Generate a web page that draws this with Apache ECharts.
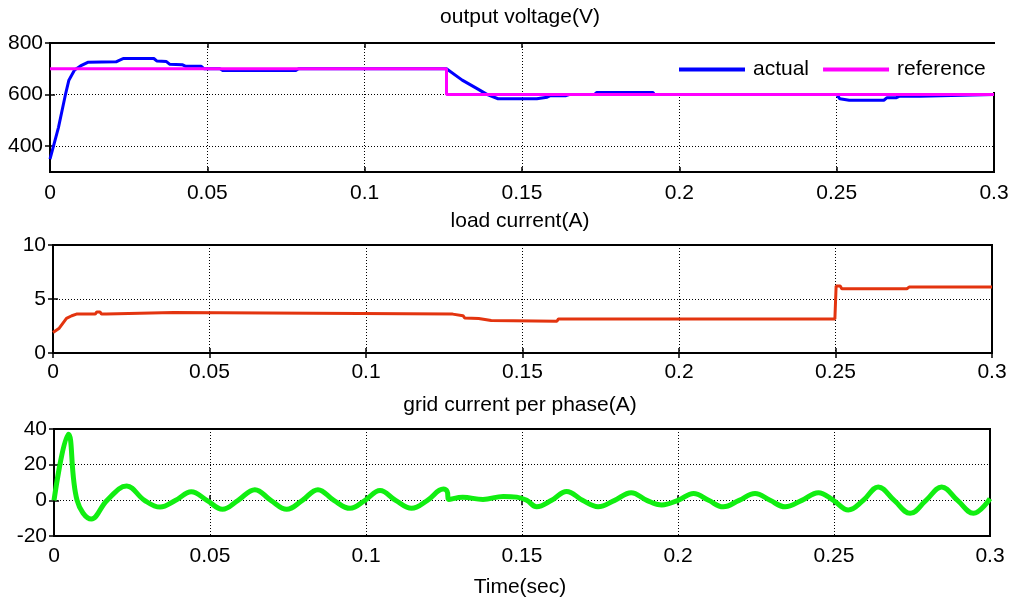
<!DOCTYPE html>
<html>
<head>
<meta charset="utf-8">
<script src="https://cdn.jsdelivr.net/npm/echarts@6/dist/echarts.min.js"></script>
<style>
html,body{margin:0;padding:0;background:#fff;}
#c{width:1013px;height:605px;}
</style>
</head>
<body>
<div id="c"></div>
<script>
// ---- data ----
const xTicks = [0, 0.05, 0.1, 0.15, 0.2, 0.25, 0.3];
const xTickLabels = ['0', '0.05', '0.1', '0.15', '0.2', '0.25', '0.3'];
const vTicks = [400, 600, 800];
const vTickLabels = ['400', '600', '800'];
const iLoadTicks = [0, 5, 10];
const iGridTicks = [-20, 0, 20, 40];
const titles = ['output voltage(V)', 'load current(A)', 'grid current per phase(A)', 'Time(sec)'];
const legendNames = ['actual', 'reference'];

// output voltage, actual [t, V]
const voltageActual = [[0,350],[0.0027,473],[0.005,605],[0.006,656],[0.0078,695],[0.0097,711],[0.012,725],[0.021,727],[0.022,733],[0.0234,740],[0.033,740],[0.034,730],[0.037,728],[0.038,718],[0.042,716],[0.043,710],[0.048,710],[0.049,700],[0.054,700],[0.055,693],[0.078,693],[0.079,700],[0.126,700],[0.131,656],[0.1356,624],[0.139,600],[0.1424,584],[0.1547,584],[0.155,590],[0.158,590],[0.159,596],[0.164,596],[0.165,600],[0.173,600],[0.1737,608],[0.1917,608],[0.192,600],[0.25,600],[0.251,584],[0.254,578],[0.265,578],[0.266,588],[0.269,588],[0.27,594],[0.2764,594],[0.277,600],[0.3,600]];
// output voltage, reference [t, V]
const voltageRef = [[0,700],[0.126,700],[0.126,600],[0.3,600]];
// load current [t, A]
const loadCurrent = [[0,1.9],[0.002,2.3],[0.0043,3.2],[0.006,3.45],[0.0075,3.6],[0.0135,3.6],[0.014,3.8],[0.015,3.8],[0.0155,3.6],[0.017,3.6],[0.0175,3.75],[0.0385,3.75],[0.039,3.6],[0.1277,3.6],[0.128,3.45],[0.131,3.45],[0.1315,3.25],[0.136,3.2],[0.1365,3.05],[0.14,3.0],[0.1405,2.95],[0.161,2.95],[0.1615,3.15],[0.2498,3.15],[0.2502,6.2],[0.2515,6.2],[0.252,5.95],[0.2728,5.95],[0.2735,6.1],[0.3,6.1]];
// grid current per phase [t, A]
const gridCurrent = [[0,0],[0.0046,37],[0.0074,0],[0.012,-10.5],[0.017,0],[0.0233,8],[0.029,0],[0.034,-3.8],[0.039,0],[0.044,4.8],[0.049,0],[0.054,-5],[0.059,0],[0.0644,6],[0.0695,0],[0.0746,-5],[0.0796,0],[0.0846,6],[0.0897,0],[0.0949,-4.5],[0.0997,0],[0.1045,5.5],[0.1095,0],[0.1146,-4.5],[0.1197,0],[0.1248,6.3],[0.126,5],[0.1265,0.5],[0.131,1.7],[0.1375,0.5],[0.144,2.2],[0.1483,1.8],[0.1515,0],[0.1547,-3.6],[0.1595,0],[0.1643,5],[0.1694,0],[0.1744,-3.6],[0.1797,0],[0.185,4.3],[0.19,0],[0.1948,-2.6],[0.2,0],[0.205,3.9],[0.2098,0],[0.2145,-3.6],[0.2196,0],[0.2247,3.9],[0.2295,0],[0.2343,-3.6],[0.2397,0],[0.245,4.3],[0.2498,0],[0.2546,-5.4],[0.2594,0],[0.2642,7.5],[0.2693,0],[0.2744,-7.3],[0.2795,0],[0.2845,7.5],[0.2896,0],[0.2947,-7.3],[0.3,1]];

// ---- chart ----
const FONT = 'Liberation Sans, Arial, sans-serif';
const FS = 21;
const grids = [
  {left: 50, right: 19, top: 43, height: 129},
  {left: 53, right: 21, top: 245, height: 108},
  {left: 54, right: 23, top: 429, height: 107}
];
const xLabelMargins = [11, 9, 10];
const yCfg = [
  {min: 300, max: 800, ticks: vTicks, labels: vTickLabels},
  {min: 0, max: 10, ticks: iLoadTicks, labels: iLoadTicks.map(String)},
  {min: -20, max: 40, ticks: iGridTicks, labels: iGridTicks.map(String)}
];

const splitLine = {show: true, lineStyle: {color: '#000', type: [1, 2], width: 1}};
const tickStyle = {color: '#000', width: 1.5};
const xAxes = [], yAxes = [];
grids.forEach((g, k) => {
  xAxes.push({
    type: 'value', gridIndex: k, min: 0, max: 0.3, position: 'bottom',
    axisLine: {show: false},
    axisTick: {show: true, inside: true, length: 5, lineStyle: tickStyle, customValues: xTicks},
    axisLabel: {show: true, customValues: xTicks, margin: xLabelMargins[k], color: '#000', fontSize: FS, fontFamily: FONT,
      formatter: v => { const i = xTicks.findIndex(t => Math.abs(t - v) < 1e-9); return i >= 0 ? xTickLabels[i] : ''; }},
    splitLine: splitLine
  });
  xAxes.push({
    type: 'value', gridIndex: k, min: 0, max: 0.3, position: 'top',
    axisLine: {show: false},
    axisTick: {show: true, inside: true, length: 5, lineStyle: tickStyle, customValues: xTicks},
    axisLabel: {show: false}, splitLine: {show: false}
  });
  const yc = yCfg[k];
  yAxes.push({
    type: 'value', gridIndex: k, min: yc.min, max: yc.max, position: 'left',
    axisLine: {show: false},
    axisTick: {show: true, inside: true, length: 5, lineStyle: tickStyle, customValues: yc.ticks},
    axisLabel: {show: true, customValues: yc.ticks, margin: 7, color: '#000', fontSize: FS, fontFamily: FONT,
      formatter: v => { const i = yc.ticks.indexOf(v); return i >= 0 ? yc.labels[i] : ''; }},
    splitLine: splitLine
  });
  yAxes.push({
    type: 'value', gridIndex: k, min: yc.min, max: yc.max, position: 'right',
    axisLine: {show: false},
    axisTick: {show: true, inside: true, length: 5, lineStyle: tickStyle, customValues: yc.ticks},
    axisLabel: {show: false}, splitLine: {show: false}
  });
});

const titleCenter = 520;
const titleTops = [7, 211, 395, 577];
const option = {
  animation: false,
  backgroundColor: '#fff',
  textStyle: {fontFamily: FONT},
  title: titles.map((t, i) => ({
    text: t, left: titleCenter, top: titleTops[i], textAlign: 'center', padding: 0,
    textStyle: {color: '#000', fontSize: FS, fontWeight: 'normal', fontFamily: FONT}
  })),
  grid: grids.map(g => Object.assign({show: true, borderColor: '#000', borderWidth: 2, backgroundColor: 'transparent'}, g)),
  xAxis: xAxes,
  yAxis: yAxes,
  legend: {
    data: legendNames,
    left: 668, top: 44,
    padding: [15, 10, 12, 11],
    itemGap: 14,
    itemWidth: 66, itemHeight: 4,
    icon: 'rect',
    backgroundColor: '#fff',
    textStyle: {color: '#000', fontSize: FS, fontFamily: FONT, padding: [0, 0, 0, 3]}
  },
  series: [
    {name: legendNames[0], type: 'line', xAxisIndex: 0, yAxisIndex: 0, data: voltageActual, showSymbol: false,
      lineStyle: {color: '#0000ff', width: 3}, itemStyle: {color: '#0000ff'}},
    {name: legendNames[1], type: 'line', xAxisIndex: 0, yAxisIndex: 0, data: voltageRef, showSymbol: false,
      lineStyle: {color: '#ff00ff', width: 3}, itemStyle: {color: '#ff00ff'}},
    {name: 'load current', type: 'line', xAxisIndex: 2, yAxisIndex: 2, data: loadCurrent, showSymbol: false,
      lineStyle: {color: '#e3340f', width: 3}, itemStyle: {color: '#e3340f'}},
    {name: 'grid current', type: 'line', xAxisIndex: 4, yAxisIndex: 4, data: gridCurrent, showSymbol: false, smooth: 0.4,
      lineStyle: {color: '#11ee11', width: 5}, itemStyle: {color: '#11ee11'}}
  ]
};
const chart = echarts.init(document.getElementById('c'), null, {renderer: 'canvas'});
chart.setOption(option);
</script>
</body>
</html>
